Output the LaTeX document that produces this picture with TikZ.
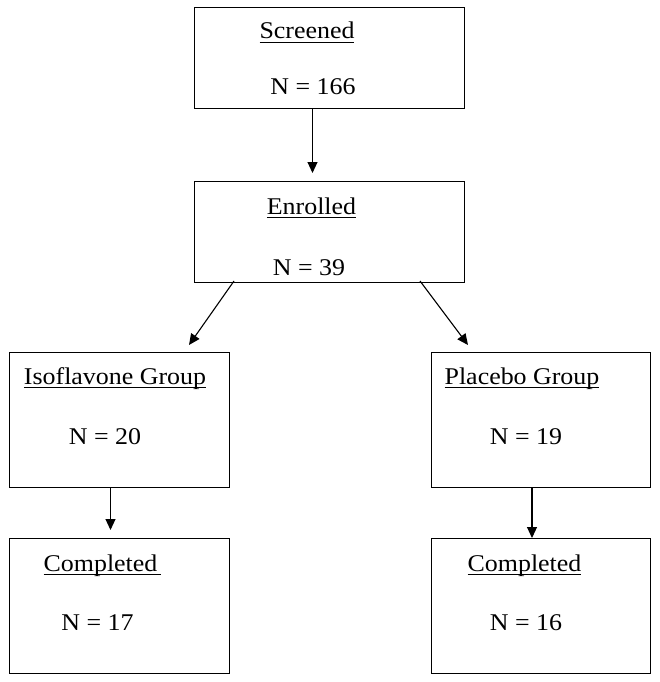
\documentclass[tikz,border=0pt]{standalone}
\usepackage{fontspec}
\setmainfont{Liberation Serif}[FakeStretch=1.08]
\newsavebox{\ulxbox}
\newcommand{\ulx}[1]{\sbox{\ulxbox}{#1}\rlap{\rule[-3.9pt]{\wd\ulxbox}{1.3pt}}\usebox{\ulxbox}}
\usetikzlibrary{arrows.meta}
\begin{document}
\begin{tikzpicture}[x=1pt,y=-1pt,
  box/.style={draw,line width=1pt,minimum width=#1,anchor=north west,inner sep=0pt},
  lbl/.style={anchor=base,inner sep=0pt,font=\fontsize{24}{28}\selectfont},
  arr/.style={line width=1.1pt,-{Triangle[length=11pt,width=10pt]}}]
\useasboundingbox (0,0) rectangle (659,682);
% boxes
\node[box=270pt,minimum height=101pt] (scr) at (194,7) {};
\node[box=270pt,minimum height=101pt] (enr) at (194,181) {};
\node[box=220pt,minimum height=135pt] (iso) at (9,352) {};
\node[box=219pt,minimum height=135pt] (pla) at (431,352) {};
\node[box=220pt,minimum height=135pt] (cl) at (9,538) {};
\node[box=219pt,minimum height=135pt] (cr) at (431,538) {};
% texts
\node[lbl] (t1) at (307,39) {\ulx{Screened}};
\node[lbl] (n1) at (313,95) {N = 166};
\node[lbl] (t2) at (311.5,214) {\ulx{Enrolled}};
\node[lbl] (n2) at (309,275) {N = 39};
\node[lbl] (t3) at (115,384) {\ulx{Isoflavone Group}};
\node[lbl] (n3) at (105,444) {N = 20};
\node[lbl] (t4) at (522,384) {\ulx{Placebo Group}};
\node[lbl] (n4) at (526,444) {N = 19};
\node[lbl] (t5) at (102.5,571) {\ulx{Completed\,}};
\node[lbl] (n5) at (97.5,630) {N = 17};
\node[lbl] (t6) at (524.5,571) {\ulx{Completed}};
\node[lbl] (n6) at (526,630) {N = 16};
% connectors
\coordinate (a1s) at (234,281);
\coordinate (a1e) at (189,345);
\coordinate (a2s) at (420,281);
\coordinate (a2e) at (468,345);
\draw[arr,shorten >=8pt] (scr.south -| 312.5,0) -- (enr.north -| 312.5,0);
\draw[arr] (a1s) -- (a1e);
\draw[arr] (a2s) -- (a2e);
\draw[arr,shorten >=8pt] (iso.south -| 110.5,0) -- (cl.north -| 110.5,0);
\draw[arr] (pla.south -| 532,0) -- (cr.north -| 532,0);
\end{tikzpicture}
\end{document}
